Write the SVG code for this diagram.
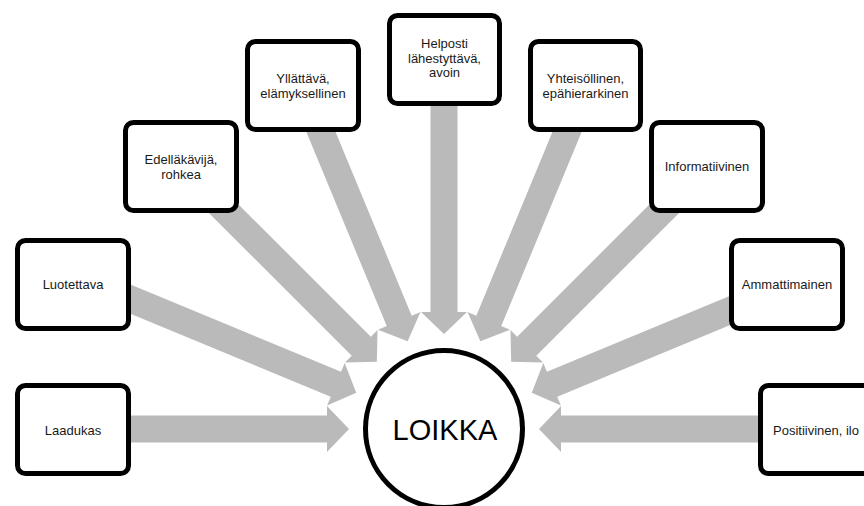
<svg xmlns="http://www.w3.org/2000/svg" width="864" height="506" viewBox="0 0 864 506">
  <style>
    .box { fill: #ffffff; stroke: #000000; stroke-width: 5; }
    .lbl { font-family: "Liberation Sans", Arial, sans-serif; font-size: 13px; fill: #1a1a1a; text-anchor: middle; }
    .hub { fill: #ffffff; stroke: #000000; stroke-width: 5; }
    .hub-lbl { font-family: "Liberation Sans", Arial, sans-serif; font-size: 29px; fill: #000000; text-anchor: middle; }
    .arrow { fill: #bababa; }
  </style>
  <defs>
    <!-- block arrow pointing toward -x, tip at the origin -->
    <path id="blockArrow" d="M0,0 L22,-23 L22,-13.5 L265,-13.5 L265,13.5 L22,13.5 L22,23 Z"/>
  </defs>

  <rect width="864" height="506" fill="#ffffff"/>

  <!-- radial arrows, tips on a ring of radius 95 around the hub -->
  <g id="connectors" class="arrow">
    <use href="#blockArrow" transform="translate(444 429) rotate(180) translate(95 0)"/>
    <use href="#blockArrow" transform="translate(444 429) rotate(202.5) translate(95 0)"/>
    <use href="#blockArrow" transform="translate(444 429) rotate(225) translate(95 0)"/>
    <use href="#blockArrow" transform="translate(444 429) rotate(247.5) translate(95 0)"/>
    <use href="#blockArrow" transform="translate(444 429) rotate(270) translate(95 0)"/>
    <use href="#blockArrow" transform="translate(444 429) rotate(292.5) translate(95 0)"/>
    <use href="#blockArrow" transform="translate(444 429) rotate(315) translate(95 0)"/>
    <use href="#blockArrow" transform="translate(444 429) rotate(337.5) translate(95 0)"/>
    <use href="#blockArrow" transform="translate(444 429) rotate(0) translate(95 0)"/>
  </g>

  <g id="hub">
    <circle class="hub" cx="444" cy="429" r="78.5"/>
    <text class="hub-lbl" x="445" y="440">LOIKKA</text>
  </g>

  <g id="laadukas">
    <rect class="box" x="17.5" y="385.5" width="111" height="88" rx="8"/>
    <text class="lbl" x="73" y="435">Laadukas</text>
  </g>

  <g id="luotettava">
    <rect class="box" x="17.5" y="240.5" width="111" height="88" rx="8"/>
    <text class="lbl" x="73" y="289">Luotettava</text>
  </g>

  <g id="edellakavija">
    <rect class="box" x="125.5" y="122.5" width="111" height="88" rx="8"/>
    <text class="lbl" x="181" y="164">Edelläkävijä,</text>
    <text class="lbl" x="181" y="178.5">rohkea</text>
  </g>

  <g id="yllattava">
    <rect class="box" x="247.5" y="41.5" width="111" height="88" rx="8"/>
    <text class="lbl" x="303" y="83">Yllättävä,</text>
    <text class="lbl" x="303" y="97.5">elämyksellinen</text>
  </g>

  <g id="helposti">
    <rect class="box" x="389.5" y="15.5" width="110" height="88" rx="8"/>
    <text class="lbl" x="444.5" y="48">Helposti</text>
    <text class="lbl" x="444.5" y="62.5">lähestyttävä,</text>
    <text class="lbl" x="444.5" y="77">avoin</text>
  </g>

  <g id="yhteisollinen">
    <rect class="box" x="530.5" y="41.5" width="110" height="88" rx="8"/>
    <text class="lbl" x="585.5" y="83">Yhteisöllinen,</text>
    <text class="lbl" x="585.5" y="97.5">epähierarkinen</text>
  </g>

  <g id="informatiivinen">
    <rect class="box" x="651.5" y="122.5" width="111" height="88" rx="8"/>
    <text class="lbl" x="707" y="171">Informatiivinen</text>
  </g>

  <g id="ammattimainen">
    <rect class="box" x="731.5" y="240.5" width="111" height="88" rx="8"/>
    <text class="lbl" x="787" y="289">Ammattimainen</text>
  </g>

  <g id="positiivinen">
    <rect class="box" x="760.5" y="385.5" width="111" height="88" rx="8"/>
    <text class="lbl" x="816" y="435">Positiivinen, ilo</text>
  </g>
</svg>
